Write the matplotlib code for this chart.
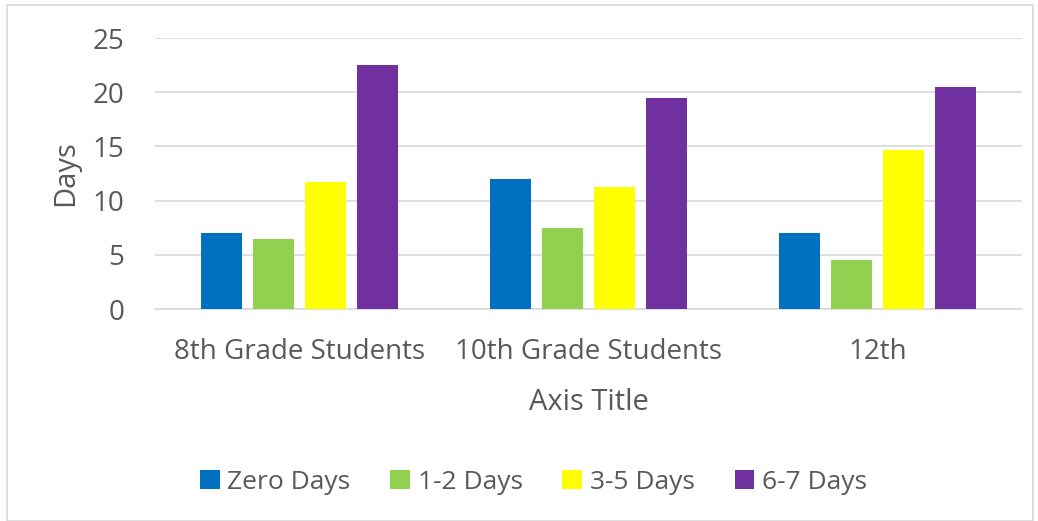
import numpy as np
import matplotlib.pyplot as plt
from matplotlib.patches import Rectangle

plt.rcParams['font.family'] = ['Open Sans', 'DejaVu Sans']

# Data
groups = ['8th Grade Students', '10th Grade Students', '12th']
series = ['Zero Days', '1-2 Days', '3-5 Days', '6-7 Days']
zero_days = [7.0, 12.0, 7.0]
one_two_days = [6.5, 7.5, 4.5]
three_five_days = [11.7, 11.3, 14.7]
six_seven_days = [22.5, 19.5, 20.5]
colors = ['#0070C0', '#92D050', '#FFFF00', '#7030A0']

values = [zero_days, one_two_days, three_five_days, six_seven_days]

fig = plt.figure(figsize=(10.38, 5.21), dpi=100)
ax = fig.add_axes([0.1493, 0.4069, 0.8353, 0.5201])

x = np.arange(len(groups))
width = 0.142
step = 0.18
for i, (name, vals, c) in enumerate(zip(series, values, colors)):
    ax.bar(x + (i - 1.5) * step, vals, width, color=c, label=name, zorder=3)

ax.set_xlim(-0.5, 2.5)
ax.set_ylim(0, 25)
ax.set_yticks([0, 5, 10, 15, 20, 25])
ax.set_xticks(x)
ax.set_xticklabels(groups)
ax.grid(axis='y', color='#D9D9D9', linewidth=1.2, zorder=0)
for s in ['top', 'right', 'left']:
    ax.spines[s].set_visible(False)
ax.spines['bottom'].set_color('#D9D9D9')
ax.spines['bottom'].set_linewidth(1.2)
ax.tick_params(axis='both', length=0, labelsize=20, colors='#595959')
ax.tick_params(axis='y', pad=22)
ax.tick_params(axis='x', pad=21)
ax.set_ylabel('Days', fontsize=21, color='#595959', labelpad=9)
ax.set_xlabel('Axis Title', fontsize=21, color='#595959', labelpad=16)

fig.legend(loc='center', bbox_to_anchor=(0.514, 0.074), ncol=4, frameon=False,
           fontsize=19, labelcolor='#595959', handlelength=0.75, handleheight=0.75,
           handletextpad=0.3, columnspacing=1.5)

fig.patches.append(Rectangle((0.007, 0.0), 0.988, 0.99, transform=fig.transFigure,
                             fill=False, edgecolor='#D9D9D9', linewidth=1.2))

fig.savefig('out.png', dpi=100)
